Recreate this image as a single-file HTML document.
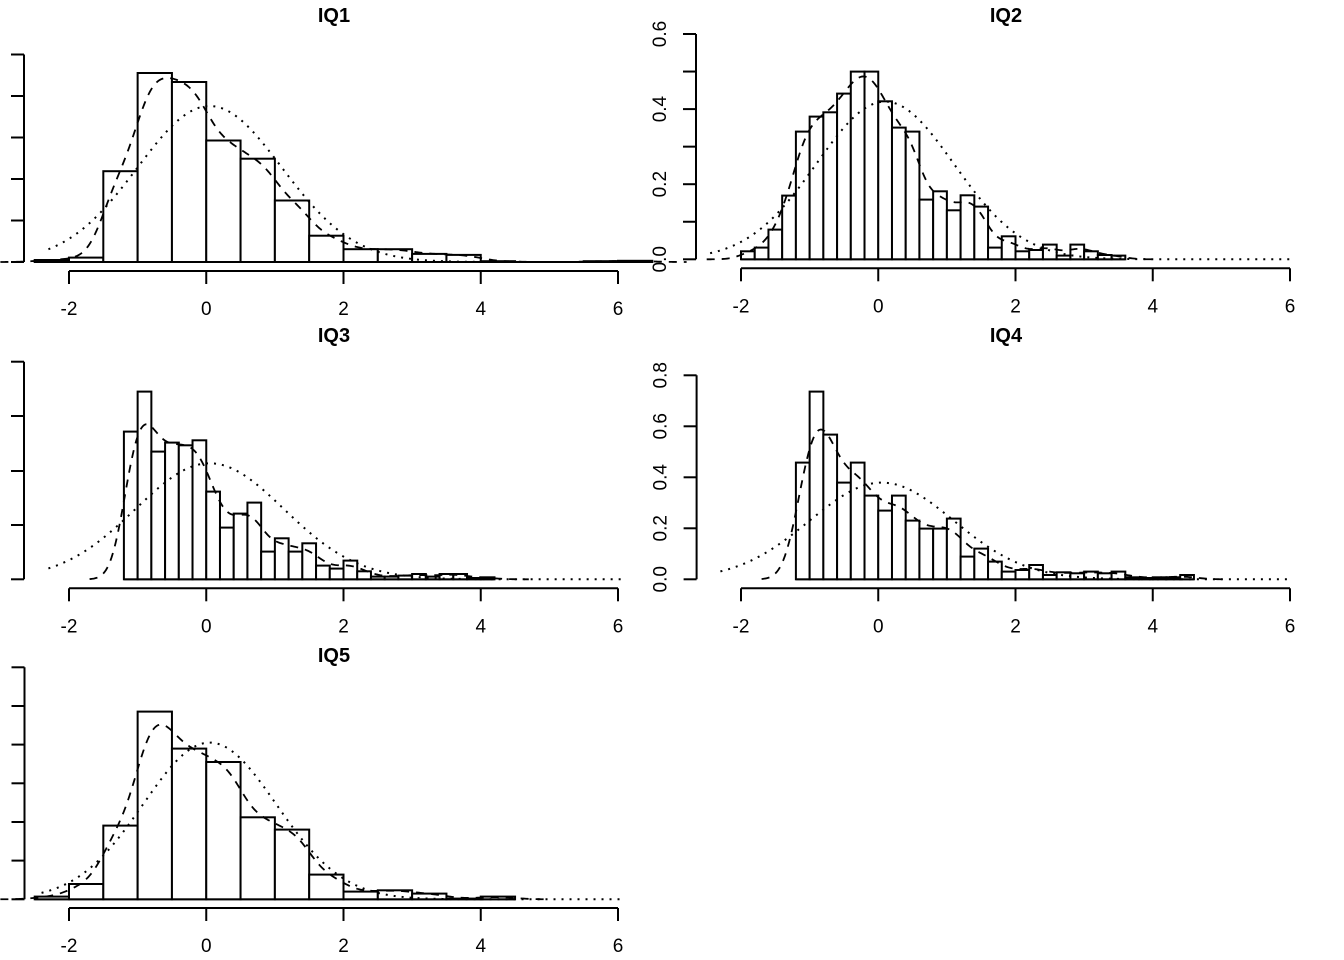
<!DOCTYPE html>
<html><head><meta charset="utf-8"><style>
html,body{margin:0;padding:0;background:#fff;}
svg{display:block;font-family:"Liberation Sans",Arial,sans-serif;}
</style></head><body>
<svg id="s" width="1344" height="960" viewBox="0 0 1344 960" xmlns="http://www.w3.org/2000/svg"></svg>
<script>
var S=document.getElementById('s');var out='';
function erf(x){var s=x<0?-1:1;x=Math.abs(x);var t=1/(1+0.3275911*x);var y=1-(((((1.061405429*t-1.453152027)*t)+1.421413741)*t-0.284496736)*t+0.254829592)*t*Math.exp(-x*x);return s*y;}
function Phi(z){return 0.5*(1+erf(z/Math.SQRT2));}
var U=68.625;
var P=[
{t:'IQ1',tx:334,ty:22,x0:206.25,base:262,axY:271,bw:0.5,st:-2.5,h:0.2,
 hs:[2,4.4,90.8,189,180,121.5,103.3,61.5,26.3,12.8,12.8,8.1,7.1,0.8,0,0,0.8,1.2],
 yx:24,yt:[262,220.5,179,137.5,96,54.5],yl:null,nm:[156,0.05,1.05],nr:[-2.3,6.4]},
{t:'IQ2',tx:1006,ty:22,x0:878.25,base:259.3,axY:268.3,bw:0.2,st:-2.0,h:0.15,
 hs:[8,11.7,29.7,63.7,127.7,142.7,147,165.7,187.7,187.7,158,131.7,127.7,59.7,68,49,64,52.7,11.7,23,8,9.3,14.7,3.7,14.7,8,4.3,3.7],
 yx:696,yt:[259.3,221.75,184.2,146.65,109.1,71.55,34],yl:['0.0','','0.2','','0.4','','0.6'],nm:[157.7,0.1,1.0],nr:[-2.45,6.0]},
{t:'IQ3',tx:334,ty:342,x0:206.25,base:579.3,axY:588.3,bw:0.2,st:-1.2,h:0.17,
 hs:[147.7,187.7,127.7,136.7,134,139,87.7,51.7,65.7,76.7,27.7,41,27.7,36,13.7,10.7,18.7,8,2.7,2.7,3.7,5.3,2.7,5.3,5.3,1.3,2],
 yx:24,yt:[579.3,525,471,416,361.7],yl:null,nm:[116,0.05,1.08],nr:[-2.3,6.1]},
{t:'IQ4',tx:1006,ty:342,x0:878.25,base:579.3,axY:588.3,bw:0.2,st:-1.2,h:0.18,
 hs:[116.7,187.7,144.7,96.7,116.7,83.7,68.7,83.7,58.7,50.7,50.7,60.7,22.7,30.7,17.7,7.7,9.3,14.3,4.3,7,6,7.7,6,7.7,2,1.3,2,2,4.3],
 yx:696.6,yt:[579.3,528.3,477.3,426.3,375.3],yl:['0.0','0.2','0.4','0.6','0.8'],nm:[96.7,0.05,1.05],nr:[-2.3,6.0]},
{t:'IQ5',tx:334,ty:662,x0:206.25,base:899.3,axY:908,bw:0.5,st:-2.5,h:0.2,
 hs:[2.7,15.3,73.7,187.7,150.7,137.3,82,69.7,24.7,7.7,9,5.7,0.7,2.7],
 yx:24.5,yt:[899.3,860.6,822,783.3,744.6,706,667.3],yl:null,nm:[156.7,0.05,0.97],nr:[-2.4,6.05]}
];
P.forEach(function(p){
 var X=function(v){return p.x0+v*U;};
 out+='<text x="'+p.tx+'" y="'+p.ty+'" font-size="20" font-weight="bold" text-anchor="middle">'+p.t+'</text>';
 var n=p.hs.length;
 out+='<line x1="'+X(p.st)+'" y1="'+p.base+'" x2="'+X(p.st+n*p.bw)+'" y2="'+p.base+'" stroke="#000" stroke-width="2"/>';
 for(var i=0;i<n;i++){var l=X(p.st+i*p.bw),w=p.bw*U,h=p.hs[i];
  out+='<rect x="'+l.toFixed(2)+'" y="'+(p.base-h).toFixed(2)+'" width="'+w.toFixed(2)+'" height="'+h.toFixed(2)+'" fill="#fff" stroke="#000" stroke-width="2"/>';}
 var d='';for(var v=p.nr[0];v<=p.nr[1]+1e-9;v+=0.02){var y=p.base-p.nm[0]*Math.exp(-Math.pow(v-p.nm[1],2)/(2*p.nm[2]*p.nm[2]));d+=(d?'L':'M')+X(v).toFixed(2)+' '+y.toFixed(2);}
 out+='<path d="'+d+'" fill="none" stroke="#000" stroke-width="2" stroke-dasharray="2,6"/>';
 d='';var a=p.st-0.5,b=p.st+n*p.bw+0.5;
 for(var v=a;v<=b;v+=0.02){var s=0;for(var i=0;i<n;i++){var l=p.st+i*p.bw,r=l+p.bw;s+=p.hs[i]*(Phi((r-v)/p.h)-Phi((l-v)/p.h));}
  d+=(d?'L':'M')+X(v).toFixed(2)+' '+(p.base-s).toFixed(2);}
 out+='<path d="'+d+'" fill="none" stroke="#000" stroke-width="1.8" stroke-dasharray="8,7"/>';
 out+='<line x1="'+X(-2)+'" y1="'+p.axY+'" x2="'+X(6)+'" y2="'+p.axY+'" stroke="#000" stroke-width="2"/>';
 [-2,0,2,4,6].forEach(function(v){out+='<line x1="'+X(v)+'" y1="'+p.axY+'" x2="'+X(v)+'" y2="'+(p.axY+13)+'" stroke="#000" stroke-width="2"/>';
  out+='<text x="'+X(v)+'" y="'+(p.axY+44)+'" font-size="19" text-anchor="middle">'+(v<0?'-2':v)+'</text>';});
 var yt=p.yt;out+='<line x1="'+p.yx+'" y1="'+yt[0]+'" x2="'+p.yx+'" y2="'+yt[yt.length-1]+'" stroke="#000" stroke-width="2"/>';
 yt.forEach(function(y,k){out+='<line x1="'+(p.yx-13)+'" y1="'+y+'" x2="'+p.yx+'" y2="'+y+'" stroke="#000" stroke-width="2"/>';
  if(p.yl&&p.yl[k]){out+='<text transform="translate('+(p.yx-30)+','+y+') rotate(-90)" font-size="19" text-anchor="middle">'+p.yl[k]+'</text>';}});
});
S.innerHTML=out;
</script>
</body></html>
